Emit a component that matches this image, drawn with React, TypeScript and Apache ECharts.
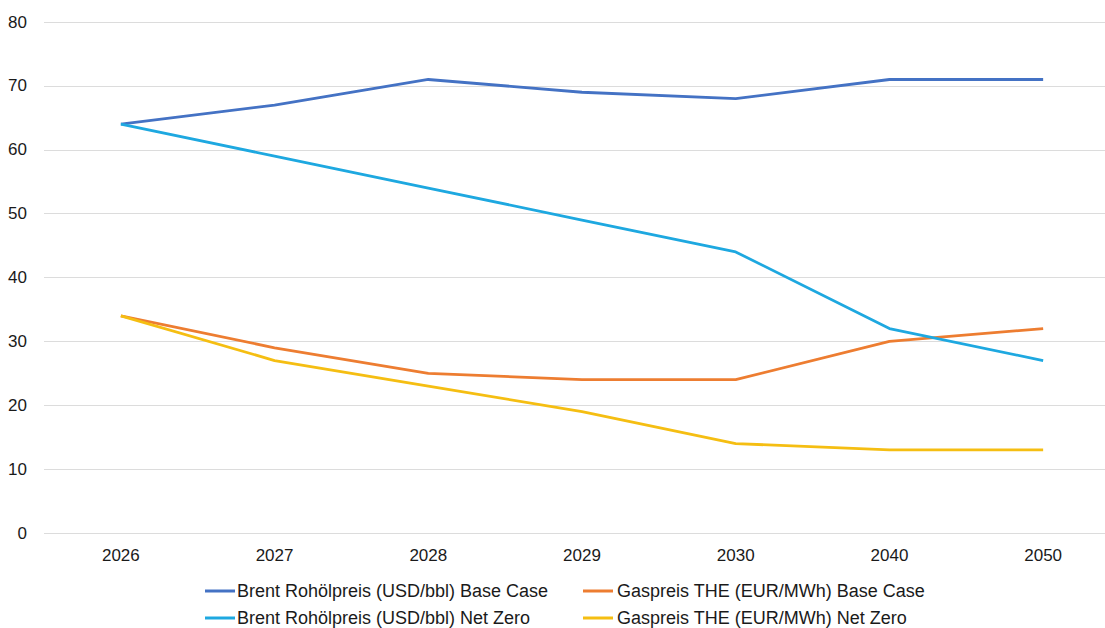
import React, { useEffect, useRef } from "react";
import * as echarts from "echarts";

const categories = ["2026", "2027", "2028", "2029", "2030", "2040", "2050"];
const brentBase = [64, 67, 71, 69, 68, 71, 71];
const brentNetZero = [64, 59, 54, 49, 44, 32, 27];
const gasBase = [34, 29, 25, 24, 24, 30, 32];
const gasNetZero = [34, 27, 23, 19, 14, 13, 13];

const seriesNames = [
  "Brent Rohölpreis (USD/bbl) Base Case",
  "Gaspreis THE (EUR/MWh) Base Case",
  "Brent Rohölpreis (USD/bbl) Net Zero",
  "Gaspreis THE (EUR/MWh) Net Zero",
];
const colors = ["#4472C4", "#ED7D31", "#1EA8E0", "#F5BE12"];
const seriesData = [brentBase, gasBase, brentNetZero, gasNetZero];

export default function App() {
  const ref = useRef<HTMLDivElement>(null);
  useEffect(() => {
    if (!ref.current) return;
    const chart = echarts.init(ref.current, null, { renderer: "svg" });
    const legendText = {
      fontFamily: "Liberation Sans, Arial, sans-serif",
      fontSize: 18,
      color: "#1a1a1a",
    };
    const legendPos = [
      { left: 205, top: 582, pad: -3 },
      { left: 583, top: 582, pad: -1 },
      { left: 205, top: 609, pad: -3 },
      { left: 583, top: 609, pad: -1 },
    ];
    chart.setOption({
      animation: false,
      backgroundColor: "#ffffff",
      grid: {
        left: 44,
        width: 1076,
        top: 22,
        bottom: 95,
        containLabel: false,
        outerBoundsMode: "none",
      },
      legend: seriesNames.map((n, i) => ({
        data: [n],
        left: legendPos[i].left,
        top: legendPos[i].top,
        icon: "rect",
        itemWidth: 30,
        itemHeight: 3,
        itemGap: 0,
        padding: 0,
        textStyle: { ...legendText, padding: [0, 0, 0, legendPos[i].pad] },
        selectedMode: false,
      })),
      xAxis: {
        type: "category",
        data: categories,
        boundaryGap: true,
        axisLine: { show: false },
        axisTick: { show: false },
        axisLabel: {
          fontFamily: "Liberation Sans, Arial, sans-serif",
          fontSize: 17,
          color: "#1a1a1a",
          margin: 14,
        },
      },
      yAxis: {
        type: "value",
        min: 0,
        max: 80,
        interval: 10,
        axisLine: { show: false },
        axisTick: { show: false },
        splitLine: { lineStyle: { color: "#dcdcdc", width: 1 } },
        axisLabel: {
          fontFamily: "Liberation Sans, Arial, sans-serif",
          fontSize: 17,
          color: "#1a1a1a",
          margin: 17,
        },
      },
      series: seriesNames.map((n, i) => ({
        name: n,
        type: "line",
        data: seriesData[i],
        color: colors[i],
        symbol: "none",
        lineStyle: { width: 2.8, color: colors[i] },
      })),
    });
    return () => chart.dispose();
  }, []);
  return (
    <div
      ref={ref}
      style={{ position: "absolute", left: 0, top: 0, width: 1105, height: 628 }}
    />
  );
}
